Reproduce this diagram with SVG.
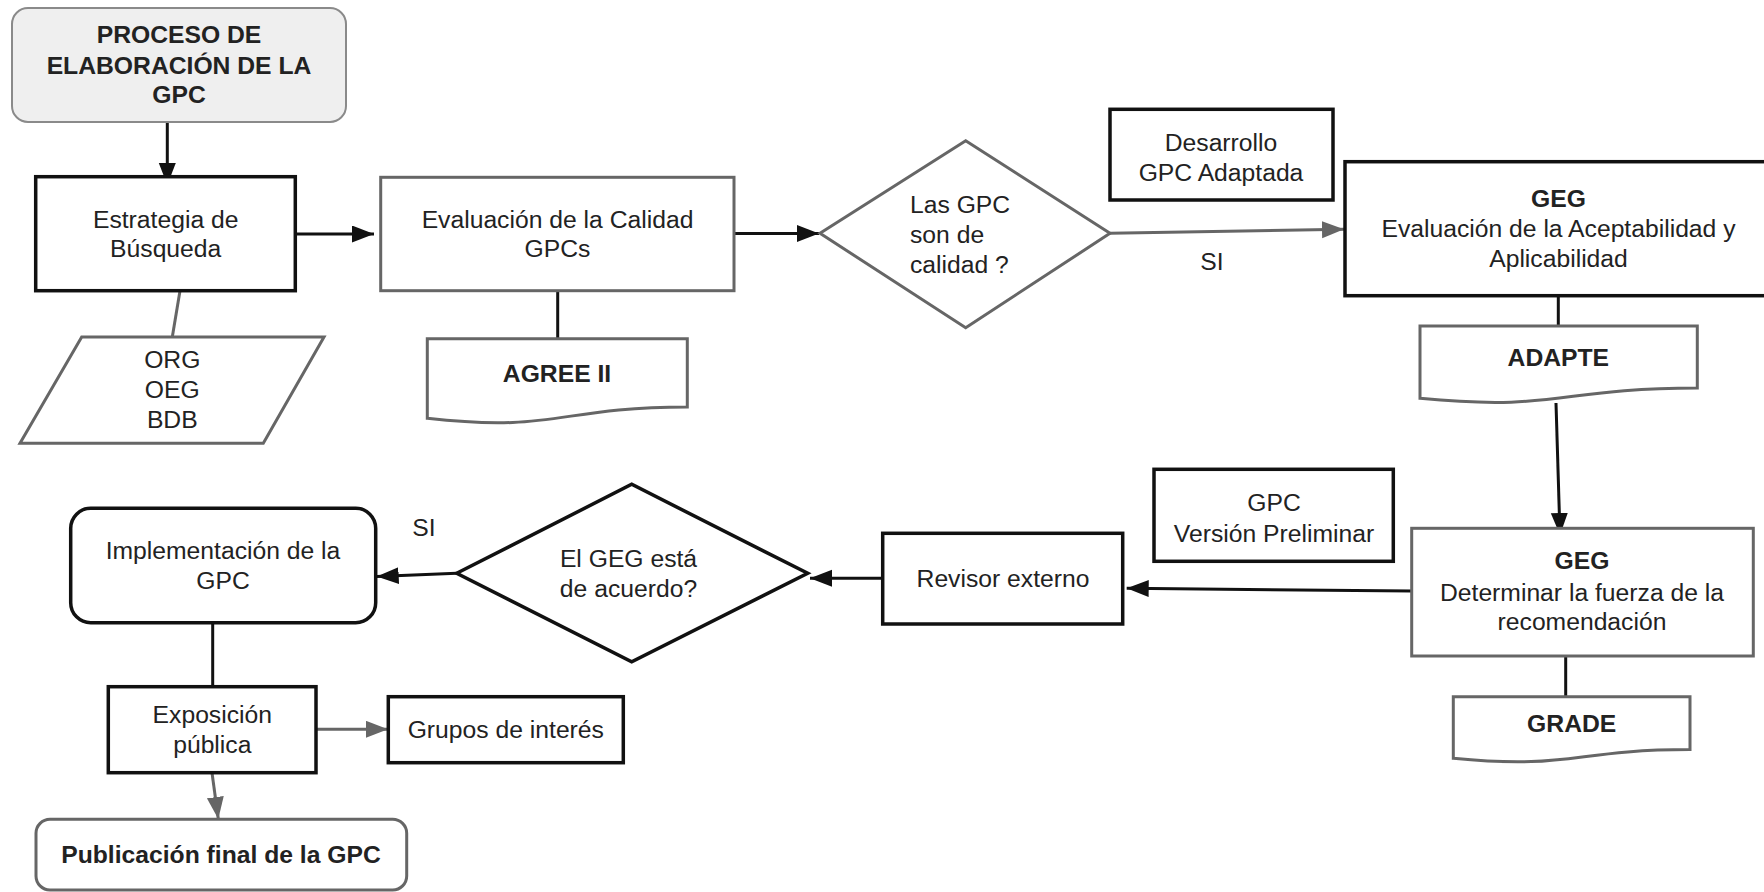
<svg xmlns="http://www.w3.org/2000/svg" width="1764" height="892" viewBox="0 0 1764 892">
<style>
.t{font-family:"Liberation Sans",Arial,sans-serif;font-size:24.7px;fill:#222;text-anchor:middle}
.s{text-anchor:start}
.b{font-weight:bold}
.bk{fill:#fff;stroke:#111;stroke-width:3.5}
.gr{fill:#fff;stroke:#666;stroke-width:3}
.cb{fill:none;stroke:#111;stroke-width:3}
.cg{fill:none;stroke:#666;stroke-width:3}
</style>
<defs>
<marker id="ab" markerUnits="userSpaceOnUse" markerWidth="23" markerHeight="18" refX="22" refY="8.5" orient="auto"><path d="M0,0 L22,8.5 L0,17 z" fill="#111"/></marker>
<marker id="ag" markerUnits="userSpaceOnUse" markerWidth="23" markerHeight="18" refX="22" refY="8.5" orient="auto"><path d="M0,0 L22,8.5 L0,17 z" fill="#666"/></marker>
</defs>
<rect width="1764" height="892" fill="#fff"/>
<g id="connectors">
<line class="cb" x1="167.3" y1="122" x2="167.3" y2="185" marker-end="url(#ab)"/>
<line class="cb" x1="290" y1="234" x2="374" y2="234" marker-end="url(#ab)"/>
<line class="cg" x1="180" y1="290.7" x2="172.3" y2="337"/>
<line class="cb" x1="557.7" y1="290.7" x2="557.7" y2="338.7"/>
<line class="cb" x1="734" y1="233.5" x2="819" y2="233.5" marker-end="url(#ab)"/>
<line class="cg" x1="1110" y1="233.3" x2="1344" y2="229.3" marker-end="url(#ag)"/>
<line class="cb" x1="1558.3" y1="295.7" x2="1558.3" y2="326"/>
<line class="cb" x1="1556" y1="403" x2="1560" y2="535" marker-end="url(#ab)"/>
<line class="cb" x1="1565.7" y1="656" x2="1565.7" y2="696.7"/>
<line class="cb" x1="1411.7" y1="591" x2="1126.7" y2="588.3" marker-end="url(#ab)"/>
<line class="cb" x1="883" y1="578.3" x2="810" y2="578.3" marker-end="url(#ab)"/>
<line class="cb" x1="456.7" y1="573.3" x2="376.7" y2="576.5" marker-end="url(#ab)"/>
<line class="cb" x1="212.7" y1="622.7" x2="212.7" y2="686.7"/>
<line class="cg" x1="316" y1="729.3" x2="388" y2="729.3" marker-end="url(#ag)"/>
<line class="cg" x1="212" y1="772.7" x2="218.3" y2="819" marker-end="url(#ag)"/>
<text class="t" x="1212" y="270">SI</text>
<text class="t" x="424" y="536">SI</text>
</g>
<g id="title">
<rect x="12" y="8" width="334" height="114" rx="16" fill="#efefef" stroke="#8a8a8a" stroke-width="2"/>
<text class="t b" x="179" y="43.3">PROCESO DE</text>
<text class="t b" x="179" y="74">ELABORACIÓN DE LA</text>
<text class="t b" x="179" y="103.3">GPC</text>
</g>
<g id="estrategia">
<rect class="bk" x="35.7" y="176.7" width="259.6" height="114"/>
<text class="t" x="165.7" y="228.3">Estrategia de</text>
<text class="t" x="165.7" y="257.3">Búsqueda</text>
</g>
<g id="fuentes">
<polygon class="gr" points="81.7,337 324,337 263.3,443.3 20,443.3"/>
<text class="t" x="172.3" y="368.3">ORG</text>
<text class="t" x="172.3" y="398.3">OEG</text>
<text class="t" x="172.3" y="428.3">BDB</text>
</g>
<g id="evaluacion">
<rect class="gr" x="380.7" y="177.3" width="353.3" height="113.4"/>
<text class="t" x="557.5" y="227.7">Evaluación de la Calidad</text>
<text class="t" x="557.5" y="256.7">GPCs</text>
</g>
<g id="agree">
<path class="gr" d="M427.3,338.7 H687.3 V407 C557.3,407 557.3,433 427.3,418.3 Z"/>
<text class="t b" x="557" y="381.7">AGREE II</text>
</g>
<g id="decision1">
<polygon class="gr" points="820,233.3 965.7,140.7 1110,233.3 965.7,327.7"/>
<text class="t s" x="910" y="212.7">Las GPC</text>
<text class="t s" x="910" y="243">son de</text>
<text class="t s" x="910" y="273.3">calidad ?</text>
</g>
<g id="desarrollo">
<rect class="bk" x="1110" y="109.3" width="223" height="90.7"/>
<text class="t" x="1221" y="151">Desarrollo</text>
<text class="t" x="1221" y="181">GPC Adaptada</text>
</g>
<g id="geg1">
<rect class="bk" x="1345" y="161.7" width="440" height="134"/>
<text class="t b" x="1558.5" y="207.3">GEG</text>
<text class="t" x="1558.5" y="237.3">Evaluación de la Aceptabilidad y</text>
<text class="t" x="1558.5" y="267.3">Aplicabilidad</text>
</g>
<g id="adapte">
<path class="gr" d="M1420,326 H1697.3 V388 C1558.7,388 1558.7,411.7 1420,398.3 Z"/>
<text class="t b" x="1558.3" y="366">ADAPTE</text>
</g>
<g id="geg2">
<rect class="gr" x="1411.7" y="528.3" width="341.6" height="127.7"/>
<text class="t b" x="1582" y="569.3">GEG</text>
<text class="t" x="1582" y="600.7">Determinar la fuerza de la</text>
<text class="t" x="1582" y="630">recomendación</text>
</g>
<g id="grade">
<path class="gr" d="M1453.3,696.7 H1690 V749.6 C1571.7,749.6 1571.7,769.8 1453.3,758.3 Z"/>
<text class="t b" x="1571.7" y="732.3">GRADE</text>
</g>
<g id="preliminar">
<rect class="bk" x="1154" y="469.3" width="239.3" height="92"/>
<text class="t" x="1274" y="511">GPC</text>
<text class="t" x="1274" y="541.7">Versión Preliminar</text>
</g>
<g id="revisor">
<rect class="bk" x="882.7" y="533.3" width="240" height="90.7"/>
<text class="t" x="1003" y="587.3">Revisor externo</text>
</g>
<g id="decision2">
<polygon class="bk" points="456.7,573.3 631.7,484.3 807.7,573.3 631.7,661.7"/>
<text class="t" x="628.5" y="566.7">El GEG está</text>
<text class="t" x="628.5" y="597.3">de acuerdo?</text>
</g>
<g id="implementacion">
<rect class="bk" x="70.7" y="508.3" width="305" height="114.4" rx="20"/>
<text class="t" x="223" y="559">Implementación de la</text>
<text class="t" x="223" y="589">GPC</text>
</g>
<g id="exposicion">
<rect class="bk" x="108.3" y="686.7" width="207.7" height="86"/>
<text class="t" x="212.3" y="723.3">Exposición</text>
<text class="t" x="212.3" y="753.3">pública</text>
</g>
<g id="grupos">
<rect class="bk" x="388.3" y="696.7" width="235" height="66"/>
<text class="t" x="505.8" y="738.3">Grupos de interés</text>
</g>
<g id="publicacion">
<rect class="gr" x="36" y="819.3" width="370.7" height="70.7" rx="14"/>
<text class="t b" x="221" y="863.3">Publicación final de la GPC</text>
</g>
</svg>
